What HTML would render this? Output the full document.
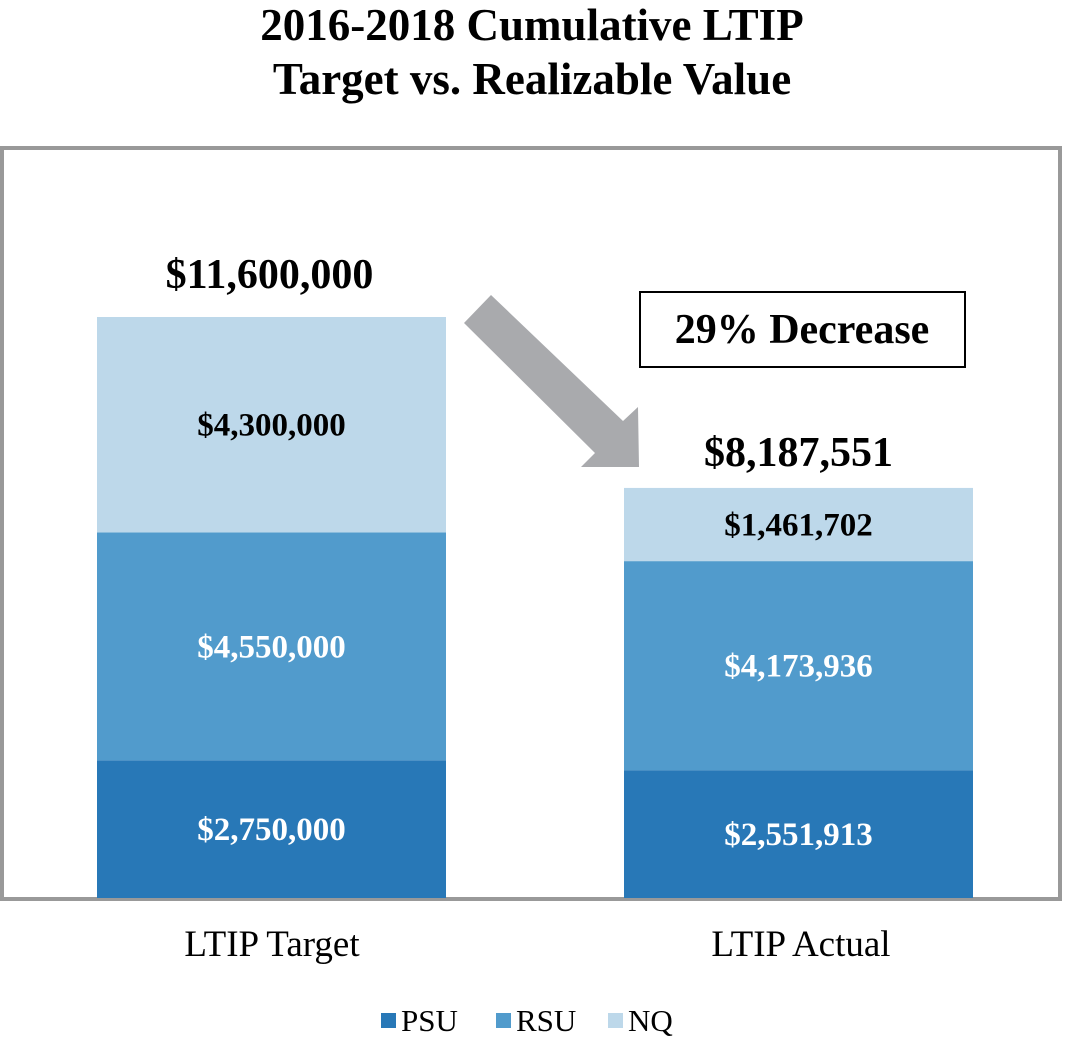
<!DOCTYPE html>
<html><head><meta charset="utf-8"><style>
body{margin:0;background:#fff;}
svg text{font-family:"Liberation Serif",serif;}
</style></head><body>
<svg width="1065" height="1038" xmlns="http://www.w3.org/2000/svg">
<text x="532" y="40" text-anchor="middle" font-size="45" font-weight="bold">2016-2018 Cumulative LTIP</text>
<text x="532" y="94" text-anchor="middle" font-size="45" font-weight="bold">Target vs. Realizable Value</text>
<rect x="2" y="148" width="1058" height="751" fill="none" stroke="#999" stroke-width="4"/>
<polygon points="491,295 464,323 595,453 581,467 639,467 638,407 623,421" fill="#a9aaad"/>
<rect x="640" y="292" width="325" height="75" fill="#fff" stroke="#000" stroke-width="2"/>
<text x="802" y="343" text-anchor="middle" font-size="42" font-weight="bold">29% Decrease</text>
<g id="bars"></g>
<text x="272" y="956" text-anchor="middle" font-size="37">LTIP Target</text>
<text x="801" y="956" text-anchor="middle" font-size="37">LTIP Actual</text>
<g id="legend"></g>
</svg>
<script>
const categories=["LTIP Target","LTIP Actual"];
const psu=[2750000,2551913];
const rsu=[4550000,4173936];
const nq=[4300000,1461702];
const totals=["$11,600,000","$8,187,551"];
const series=[{name:"PSU",vals:psu,color:"#2878b7",txt:"#fff"},{name:"RSU",vals:rsu,color:"#519bcc",txt:"#fff"},{name:"NQ",vals:nq,color:"#bdd8ea",txt:"#000"}];
const NS="http://www.w3.org/2000/svg";
const base=898, pxPerUnit=581/11600000;
const y=v=>base-v*pxPerUnit;
const xLeft=i=>97+i*527, bw=349;
const g=document.getElementById('bars');
const fmt=v=>"$"+v.toLocaleString("en-US");
function mk(tag,attrs){const e=document.createElementNS(NS,tag);for(const k in attrs)e.setAttribute(k,attrs[k]);return e;}
categories.forEach((c,i)=>{
  let cum=0;
  series.forEach(s=>{
    const v=s.vals[i];
    const r=mk('rect',{x:xLeft(i),y:y(cum+v),width:bw,height:v*pxPerUnit,fill:s.color});
    
    
    g.appendChild(r);
    const t=mk('text',{x:xLeft(i)+bw/2,y:(y(cum)+y(cum+v))/2+11,'text-anchor':'middle','font-size':33,'font-weight':'bold',fill:s.txt});
    t.textContent=fmt(v);
    
    
    g.appendChild(t);
    cum+=v;
  });
  const tt=mk('text',{x:xLeft(i)+bw/2+(i==0?-2:0),y:y(cum)-(i==0?29:22),'text-anchor':'middle','font-size':42,'font-weight':'bold'});
  tt.textContent=totals[i];
  
  
  g.appendChild(tt);
});
const lg=document.getElementById('legend');
const lx=[381,496,608];
series.forEach((s,i)=>{
  const r=mk('rect',{x:lx[i],y:1013,width:15,height:15,fill:s.color});
  
  
  lg.appendChild(r);
  const t=mk('text',{x:lx[i]+20,y:1031,'font-size':31});
  t.textContent=s.name;
  
  
  lg.appendChild(t);
});
</script>
</body></html>
